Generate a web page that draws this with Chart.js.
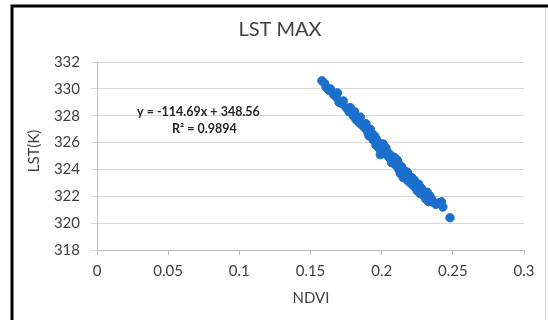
<!DOCTYPE html>
<html>
<head>
<meta charset="utf-8">
<script src="https://cdn.jsdelivr.net/npm/chart.js@4"></script>
<style>
  html, body { margin: 0; padding: 0; background: #fff; }
  #wrap { width: 548px; height: 320px; }
</style>
</head>
<body>
<div id="wrap"><canvas id="lstChart" width="548" height="320"></canvas></div>
<script>
// NDVI vs LST max
const ndvi = [0.158, 0.160, 0.161, 0.163, 0.164, 0.166, 0.168, 0.169, 0.170, 0.172,
  0.173, 0.175, 0.177, 0.178, 0.180, 0.181, 0.182, 0.184, 0.185, 0.186,
  0.188, 0.189, 0.190, 0.191, 0.192, 0.193, 0.194, 0.195, 0.196, 0.196,
  0.197, 0.198, 0.199, 0.199, 0.200, 0.201, 0.202, 0.203, 0.204, 0.205,
  0.206, 0.207, 0.208, 0.209, 0.210, 0.211, 0.212, 0.212, 0.213, 0.214,
  0.215, 0.216, 0.217, 0.218, 0.218, 0.219, 0.220, 0.221, 0.222, 0.223,
  0.224, 0.225, 0.226, 0.227, 0.228, 0.229, 0.230, 0.231, 0.232, 0.233,
  0.234, 0.235, 0.236, 0.238, 0.240, 0.242, 0.243, 0.248];
const lst = [330.6, 330.4, 330.1, 329.9, 330.0, 329.6, 329.4, 329.7, 329.0, 328.9,
  329.1, 328.6, 328.3, 328.6, 328.0, 328.3, 327.7, 327.5, 327.9, 327.3,
  327.1, 327.4, 326.8, 326.5, 327.0, 326.7, 326.2, 326.5, 325.8, 326.3,
  326.1, 325.6, 325.1, 325.8, 325.5, 325.9, 325.2, 325.6, 325.3, 324.9,
  325.1, 324.5, 324.8, 324.9, 324.3, 324.7, 324.0, 324.4, 323.7, 324.2,
  323.4, 323.9, 323.5, 323.2, 323.8, 323.5, 323.0, 323.4, 322.8, 323.2,
  322.6, 322.4, 322.9, 322.2, 322.6, 322.3, 322.0, 321.8, 322.3, 321.6,
  322.0, 321.8, 321.6, 321.4, 321.5, 321.6, 321.2, 320.4];
const xTicks = [0, 0.05, 0.1, 0.15, 0.2, 0.25, 0.3];
const yTicks = [318, 320, 322, 324, 326, 328, 330, 332];
const chartTitle = 'LST MAX';
const xTitle = 'NDVI';
const yTitle = 'LST(K)';
const eqLine1 = 'y = -114.69x + 348.56';
const eqLine2 = 'R² = 0.9894';

const FONT = 'Lato, "Open Sans", sans-serif';
const GREY = '#404040';

// frame, titles and trendline label
const decor = {
  id: 'decor',
  afterDraw(chart) {
    const c = chart.ctx;
    c.save();
    c.strokeStyle = '#000';
    c.lineWidth = 3;
    c.beginPath();
    c.moveTo(12, 330); c.lineTo(12, 6); c.lineTo(548, 6);
    c.stroke();
    c.strokeStyle = '#d0d0d0';
    c.lineWidth = 1;
    c.beginPath();
    c.moveTo(545.5, 8); c.lineTo(545.5, 320);
    c.stroke();

    c.fillStyle = GREY;
    c.textAlign = 'center';
    c.textBaseline = 'middle';
    c.font = '20px ' + FONT;
    c.fillText(chartTitle, 280, 30);
    c.font = '15px ' + FONT;
    c.fillText(xTitle, 311, 298);
    c.translate(34, 151);
    c.rotate(-Math.PI / 2);
    c.fillText(yTitle, 0, 0);
    c.setTransform(1, 0, 0, 1, 0, 0);

    c.fillStyle = '#262626';
    c.font = 'bold 12.5px ' + FONT;
    c.textAlign = 'left';
    c.fillText(eqLine1, 137, 112);
    c.fillText(eqLine2, 172, 129);
    c.restore();
  }
};

new Chart(document.getElementById('lstChart'), {
  type: 'scatter',
  data: {
    datasets: [{
      data: ndvi.map((x, i) => ({ x, y: lst[i] })),
      backgroundColor: '#1c6fcc',
      borderColor: '#1c6fcc',
      pointRadius: 4.2,
      pointHoverRadius: 4.2
    }]
  },
  options: {
    responsive: false,
    animation: false,
    layout: { padding: { left: 20, right: 24, top: 62, bottom: 10 } },
    plugins: { legend: { display: false }, tooltip: { enabled: false } },
    scales: {
      x: {
        type: 'linear',
        min: 0, max: 0.3,
        afterFit: s => { s.height = 60; },
        afterBuildTicks: s => { s.ticks = xTicks.map(v => ({ value: v })); },
        grid: { drawOnChartArea: false, color: '#bfbfbf', tickLength: 5 },
        border: { color: '#bfbfbf' },
        ticks: { color: GREY, font: { family: FONT, size: 15 }, padding: 7,
                 maxRotation: 0, callback: v => String(v) }
      },
      y: {
        min: 318, max: 332,
        afterFit: s => { s.width = 77; },
        afterBuildTicks: s => { s.ticks = yTicks.map(v => ({ value: v })); },
        grid: { color: '#d9d9d9', tickLength: 6 },
        border: { color: '#bfbfbf' },
        ticks: { color: GREY, font: { family: FONT, size: 15 }, padding: 11,
                 callback: v => String(v) }
      }
    }
  },
  plugins: [decor]
});
</script>
</body>
</html>
